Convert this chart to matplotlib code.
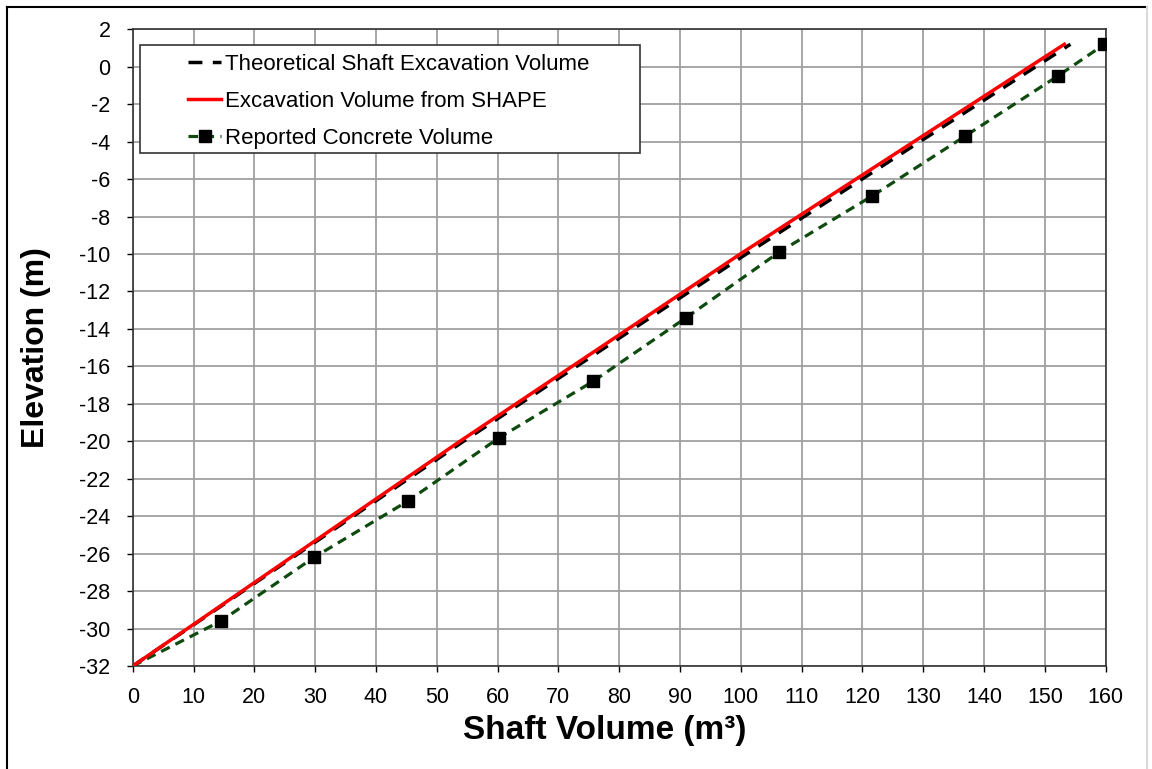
import matplotlib
matplotlib.use('Agg')
import matplotlib.pyplot as plt
from matplotlib.lines import Line2D
from matplotlib.patches import Rectangle

plt.rcParams['font.family'] = ['Liberation Sans', 'DejaVu Sans']
plt.rcParams['axes.unicode_minus'] = False

# shaft volume (m3) vs elevation (m)
theo_vol = [0, 9.1, 54.4, 100.9, 154.2]
theo_elev = [-32, -30, -20, -10, 1.2]

shape_vol = [0, 9.0, 53.8, 99.9, 153.2]
shape_elev = [-32, -30, -20, -10, 1.2]

conc_vol = [0, 14.5, 29.8, 45.2, 60.3, 75.7, 91.0, 106.3, 121.6, 136.9, 152.1, 159.8]
conc_elev = [-32, -29.6, -26.2, -23.2, -19.8, -16.8, -13.4, -9.9, -6.9, -3.7, -0.5, 1.2]

labels = ['Theoretical Shaft Excavation Volume', 'Excavation Volume from SHAPE',
          'Reported Concrete Volume']

fig = plt.figure(figsize=(11.52, 7.69), dpi=100)
ax = fig.add_axes([0.1152, 0.1339, 0.8446, 0.828])

l1, = ax.plot(theo_vol, theo_elev, color='black', lw=2.5, ls=(0, (4, 3)), zorder=3)
l2, = ax.plot(shape_vol, shape_elev, color='#ff0000', lw=2.5, zorder=4)
ax.plot(conc_vol, conc_elev, color='#0f4a0f', lw=2.3, ls=(0, (3, 2)), zorder=3)
ax.plot(conc_vol[1:], conc_elev[1:], ls='none', marker='s', ms=8,
        color='black', zorder=5)

ax.set_xlim(0, 160)
ax.set_ylim(-32, 2)
ax.set_xticks(range(0, 161, 10))
ax.set_yticks(range(-32, 3, 2))
ax.grid(True, color='#a0a0a0', lw=1.3)
ax.set_axisbelow(True)
ax.tick_params(labelsize=15.5, length=4, width=1, direction='out')
ax.tick_params(axis='x', pad=11)
ax.tick_params(axis='y', pad=12)
for s in ax.spines.values():
    s.set_linewidth(1.2)
    s.set_color('#333333')

ax.set_xlabel('Shaft Volume (m³)', fontsize=24, fontweight='bold', va='center')
ax.set_ylabel('Elevation (m)', fontsize=23, fontweight='bold', va='center')
ax.xaxis.set_label_coords(0.4846, -0.102)
ax.yaxis.set_label_coords(-0.099, 0.5)

# legend box drawn separately so it can be wider than its text
ax.add_patch(Rectangle((0.0075, 0.8057), 0.5141, 0.1696, transform=ax.transAxes,
                       facecolor='white', edgecolor='#333333', lw=1.2, zorder=6))
h3 = Line2D([], [], color='#0f4a0f', lw=2.3, ls=(0, (3, 2)), marker='s',
            ms=8, mfc='black', mec='black')
leg = ax.legend([l1, l2, h3], labels, loc='upper left',
                bbox_to_anchor=(0.0569, 0.9612), fontsize=16, frameon=False,
                handlelength=1.5, handletextpad=0.15, borderpad=0,
                labelspacing=0.71, borderaxespad=0)
leg.set_zorder(7)

# outer frame
fig.add_artist(Line2D([0.006, 0.006], [0, 0.991], color='black', lw=1.5))
fig.add_artist(Line2D([0.006, 0.9955], [0.991, 0.991], color='black', lw=1.5))
fig.add_artist(Line2D([0.9955, 0.9955], [0, 0.991], color='#d9d9d9', lw=1.5))

fig.savefig('out.png', dpi=100)
